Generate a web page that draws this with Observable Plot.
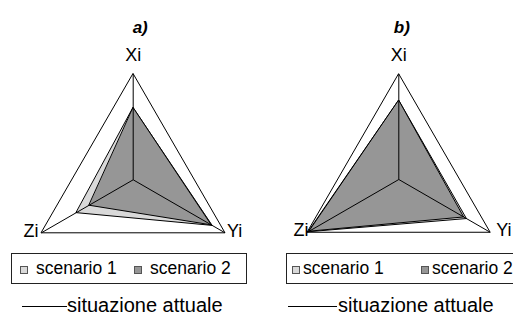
<!DOCTYPE html>
<html><head><meta charset="utf-8">
<script src="https://cdn.jsdelivr.net/npm/d3@7"></script>
<script src="https://cdn.jsdelivr.net/npm/@observablehq/plot@0.6"></script>
<style>
body{margin:0;background:#fff;font-family:"Liberation Sans",Arial,sans-serif;}
#root{position:relative;width:513px;height:324px;overflow:hidden;background:#fff;}
.chart{position:absolute;top:0;}
.box{position:absolute;border:1px solid #222;box-sizing:border-box;}
.item{position:absolute;font-size:17.5px;line-height:1;white-space:nowrap;color:#000;}
.big{font-size:20px;}
.sw{position:absolute;width:8px;height:8px;box-sizing:border-box;border:1px solid #555;}
.ln{position:absolute;height:1px;background:#000;}
</style></head><body><div id="root"></div>
<script>
const axisLabels = ["Xi", "Yi", "Zi"];
const panelTitles = ["a)", "b)"];
const seriesNames = ["scenario 1", "scenario 2"];
const lineName = "situazione attuale";
const attuale = [1, 1, 1];
const a_s1 = [0.68, 0.86, 0.62];
const a_s2 = [0.68, 0.85, 0.48];
const b_s1 = [0.75, 0.74, 0.99];
const b_s2 = [0.75, 0.71, 0.98];
const fills = ["#d9d9d9", "#969696"];

const toPts = vals => vals.map((v, i) => {
  const t = i * 2 * Math.PI / 3;
  return {axis: axisLabels[i], x: v * Math.sin(t), y: v * Math.cos(t)};
});

const panels = [
  {left: 0, width: 265, cx: 132.7, cy: 179.3, R: 106, s1: a_s1, s2: a_s2, title: panelTitles[0], tdx: 7,
   yi: {dx: 2, dy: -2}, zi: {dx: -3, dy: -2},
   box: {left: 11, top: 253, width: 236, height: 31}, sw1: 20, t1: 36, sw2: 134, t2: 150,
   lineL: 22, lineW: 45, lineT: 67},
  {left: 265, width: 248, cx: 133.3, cy: 179, R: 105.5, s1: b_s1, s2: b_s2, title: panelTitles[1], tdx: 3,
   yi: {dx: 6, dy: -2}, zi: {dx: 1, dy: -2},
   box: {left: 286, top: 253, width: 240, height: 31}, sw1: 292, t1: 303, sw2: 421, t2: 432,
   lineL: 288, lineW: 49, lineT: 338}
];

const root = document.getElementById("root");
for (const p of panels) {
  const outer = toPts(attuale);
  const chart = Plot.plot({
    width: p.width, height: 245, margin: 0,
    x: {domain: [-1, 1], range: [p.cx - p.R, p.cx + p.R], axis: null},
    y: {domain: [-1, 1], range: [p.cy + p.R, p.cy - p.R], axis: null},
    style: {fontFamily: '"Liberation Sans", Arial, sans-serif', background: "transparent", overflow: "visible"},
    marks: [
      Plot.line(toPts(p.s1), {x: "x", y: "y", curve: "linear-closed", fill: fills[0], stroke: "#000", strokeWidth: 1}),
      Plot.line(toPts(p.s2), {x: "x", y: "y", curve: "linear-closed", fill: fills[1], stroke: "#000", strokeWidth: 1}),
      Plot.line(outer, {x: "x", y: "y", curve: "linear-closed", stroke: "#000", strokeWidth: 1}),
      Plot.link(outer, {x1: () => 0, y1: () => 0, x2: "x", y2: "y", stroke: "#000", strokeWidth: 1}),
      Plot.text([outer[0]], {x: "x", y: "y", text: "axis", dy: -19, fontSize: 18, fill: "#000"}),
      Plot.text([outer[1]], {x: "x", y: "y", text: "axis", textAnchor: "start", dx: p.yi.dx, dy: p.yi.dy, fontSize: 18, fill: "#000"}),
      Plot.text([outer[2]], {x: "x", y: "y", text: "axis", textAnchor: "end", dx: p.zi.dx, dy: p.zi.dy, fontSize: 18, fill: "#000"}),
      Plot.text([p.title], {x: () => 0, frameAnchor: "top", dy: 20, dx: p.tdx, text: d => d, fontSize: 17, fontStyle: "italic", fontWeight: "bold", fill: "#000"})
    ]
  });
  const holder = document.createElement("div");
  holder.className = "chart";
  holder.style.left = p.left + "px";
  holder.appendChild(chart);
  root.appendChild(holder);

  const box = document.createElement("div");
  box.className = "box";
  Object.assign(box.style, {left: p.box.left + "px", top: p.box.top + "px", width: p.box.width + "px", height: p.box.height + "px"});
  root.appendChild(box);
  const midY = p.box.top + p.box.height / 2;
  [[p.sw1, p.t1], [p.sw2, p.t2]].forEach(([sx, tx], i) => {
    const sw = document.createElement("div");
    sw.className = "sw";
    Object.assign(sw.style, {left: sx + "px", top: (midY - 3) + "px", background: fills[i]});
    root.appendChild(sw);
    const t = document.createElement("div");
    t.className = "item";
    t.textContent = seriesNames[i];
    Object.assign(t.style, {left: tx + "px", top: (midY - 9) + "px"});
    root.appendChild(t);
  });
  const ln = document.createElement("div");
  ln.className = "ln";
  Object.assign(ln.style, {left: p.lineL + "px", top: "306px", width: p.lineW + "px"});
  root.appendChild(ln);
  const lt = document.createElement("div");
  lt.className = "item big";
  lt.textContent = lineName;
  Object.assign(lt.style, {left: p.lineT + "px", top: "295px"});
  root.appendChild(lt);
}
</script></body></html>
